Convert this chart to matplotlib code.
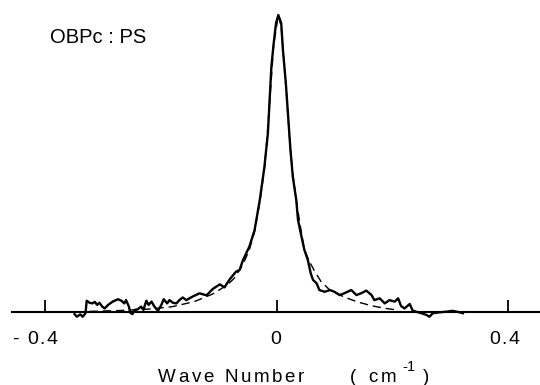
import matplotlib
matplotlib.use("Agg")
import matplotlib.pyplot as plt

# ---- data ----
wn_solid = [-0.349, -0.345, -0.339, -0.335, -0.330, -0.328, -0.323, -0.318, -0.314, -0.310,
            -0.306, -0.301, -0.297, -0.291, -0.283, -0.274, -0.268, -0.263, -0.260, -0.255,
            -0.253, -0.249, -0.245, -0.240, -0.234, -0.230, -0.225, -0.221, -0.216, -0.211,
            -0.205, -0.199, -0.195, -0.189, -0.185, -0.179, -0.173, -0.168, -0.162, -0.156,
            -0.145, -0.133, -0.121, -0.110, -0.098, -0.090, -0.081, -0.070, -0.064, -0.058,
            -0.047, -0.038, -0.029, -0.021, -0.015, -0.012, -0.009, -0.005, -0.001, 0.003,
            0.008, 0.011, 0.016, 0.020, 0.024, 0.028, 0.034, 0.037, 0.043, 0.048,
            0.054, 0.059, 0.063, 0.069, 0.074, 0.083, 0.092, 0.100, 0.109, 0.117,
            0.129, 0.138, 0.146, 0.155, 0.164, 0.169, 0.178, 0.187, 0.195, 0.204,
            0.210, 0.215, 0.221, 0.230, 0.235, 0.241, 0.250, 0.259, 0.264, 0.270,
            0.282, 0.293, 0.304, 0.316, 0.322]
int_solid = [-0.007, -0.016, -0.008, -0.016, -0.004, 0.038, 0.031, 0.029, 0.034, 0.024,
             0.031, 0.018, 0.012, 0.024, 0.035, 0.043, 0.038, 0.029, 0.040, 0.018,
             -0.002, -0.007, 0.007, 0.009, 0.018, 0.007, 0.038, 0.024, 0.035, 0.018,
             0.004, 0.024, 0.043, 0.029, 0.040, 0.031, 0.029, 0.040, 0.049, 0.040,
             0.052, 0.063, 0.056, 0.078, 0.093, 0.083, 0.110, 0.136, 0.141, 0.175,
             0.220, 0.276, 0.377, 0.489, 0.602, 0.714, 0.826, 0.905, 0.972, 1.000,
             0.972, 0.882, 0.770, 0.658, 0.545, 0.456, 0.377, 0.310, 0.254, 0.209,
             0.175, 0.130, 0.108, 0.097, 0.074, 0.068, 0.074, 0.068, 0.057, 0.063,
             0.074, 0.057, 0.063, 0.072, 0.057, 0.040, 0.046, 0.029, 0.040, 0.035,
             0.046, 0.020, 0.012, 0.027, 0.005, 0.001, -0.004, -0.010, -0.016, -0.004,
             -0.001, 0.001, 0.004, -0.001, -0.004]

wn_fit = [-0.323, -0.271, -0.219, -0.180, -0.142, -0.111, -0.085, -0.073, -0.058, -0.047,
          -0.038, -0.029, -0.021, -0.016, -0.010, -0.005, 0.003, 0.008, 0.012, 0.016,
          0.020, 0.024, 0.029, 0.034, 0.041, 0.048, 0.057, 0.066, 0.077, 0.092,
          0.115, 0.138, 0.164, 0.189, 0.207]
int_fit = [0.002, 0.005, 0.010, 0.018, 0.035, 0.060, 0.091, 0.114, 0.160, 0.210,
           0.270, 0.370, 0.480, 0.600, 0.760, 0.900, 1.000, 0.960, 0.860, 0.760,
           0.650, 0.545, 0.450, 0.377, 0.290, 0.209, 0.169, 0.136, 0.102, 0.074,
           0.052, 0.035, 0.021, 0.012, 0.007]

tick_values = [-0.4, 0.0, 0.4]
tick_labels = ["- 0.4", "0", "0.4"]
sample_label = "OBPc : PS"
xlabel_main = "Wave Number"

FAM = ["Liberation Sans", "DejaVu Sans"]
W, H, DPI = 540, 385, 100
fig = plt.figure(figsize=(W / DPI, H / DPI), dpi=DPI)

# axes placement in pixels: x -0.457..0.455 spans px 12..540; y=0 at px 312, y=1 at px 15
x0, x1 = -0.457, 0.455
ylo, yhi = -0.10, 1.05
ppu = 297.0
bottom_px = 312 + (0 - ylo) * ppu
top_px = 312 - yhi * ppu
ax = fig.add_axes([12 / W, (H - bottom_px) / H, 528 / W, (bottom_px - top_px) / H])
ax.set_xlim(x0, x1)
ax.set_ylim(ylo, yhi)

ax.plot(wn_solid, int_solid, color="black", lw=1.7, solid_joinstyle="round", clip_on=False, zorder=3)
ax.plot(wn_fit, int_fit, color="black", lw=1.0, linestyle=(0, (6, 3.5)), clip_on=False, zorder=2)

for s in ["left", "right", "top"]:
    ax.spines[s].set_visible(False)
ax.spines["bottom"].set_position(("data", 0))
ax.spines["bottom"].set_linewidth(1.5)
ax.set_yticks([])
ax.set_xticks(tick_values)
ax.set_xticklabels([])
ax.tick_params(axis="x", direction="in", length=9, width=1.3, color="black")

renderer = fig.canvas.get_renderer()


def tracked(x_px, y_px, s, size, track, ha="left"):
    """draw text char by char with extra letter spacing; x_px,y_px from top-left, y = baseline"""
    widths = []
    for ch in s:
        if ch == " ":
            widths.append(0.28 * size * DPI / 72)
            continue
        t = fig.text(0, 0, ch, fontsize=size, family=FAM)
        widths.append(t.get_window_extent(renderer).width)
        t.remove()
    total = sum(widths) + track * (len(s) - 1)
    x = x_px - (total / 2 if ha == "center" else 0)
    for ch, w in zip(s, widths):
        if ch != " ":
            fig.text(x / W, 1 - y_px / H, ch, fontsize=size, family=FAM,
                     ha="left", va="baseline")
        x += w + track


# title / sample label
fig.text(50 / W, 1 - 43 / H, sample_label, fontsize=14.5, family=FAM, ha="left", va="baseline")

# tick labels
tracked(12, 344, tick_labels[0], 14, 1.5)
tracked(276, 344, tick_labels[1], 14, 1.5, ha="center")
tracked(489, 344, tick_labels[2], 14, 1.5)

# x label
tracked(158, 382, xlabel_main, 13.5, 2.6)
tracked(350, 382, "(", 13.5, 0)
tracked(368, 382, "cm", 13.5, 3.0)
tracked(402, 371, "-1", 10.5, 0.5)
tracked(423, 382, ")", 13.5, 0)

fig.savefig("out.png", dpi=DPI)
